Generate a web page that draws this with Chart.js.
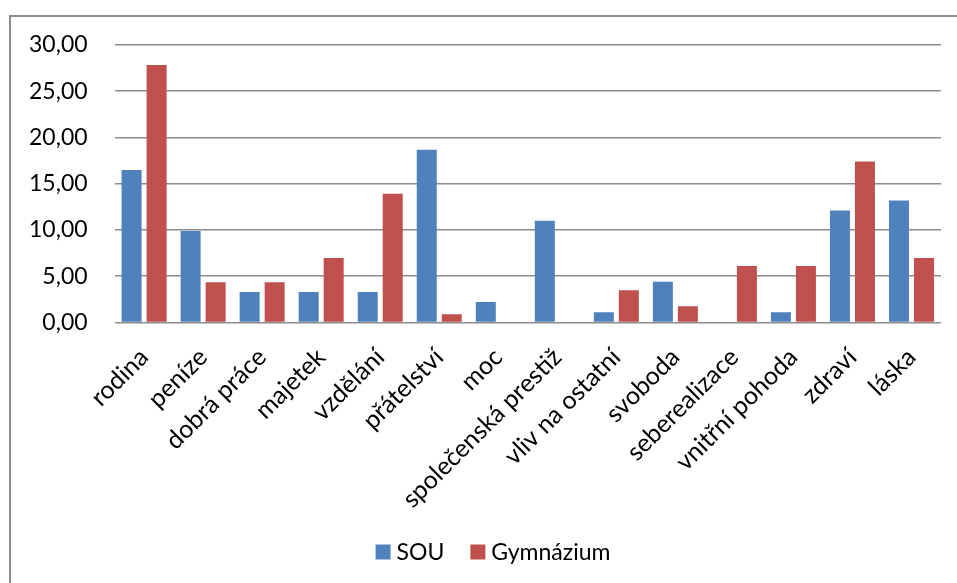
<!DOCTYPE html>
<html>
<head>
<meta charset="utf-8">
<script src="https://cdn.jsdelivr.net/npm/chart.js@4"></script>
<style>
  html, body { margin: 0; padding: 0; background: #ffffff; }
  #wrap { width: 957px; height: 583px; position: relative; }
</style>
</head>
<body>
<div id="wrap"><canvas id="c" width="957" height="583"></canvas></div>
<script>
// Hodnoty v procentech podle typu školy
const categories = ['rodina', 'peníze', 'dobrá práce', 'majetek', 'vzdělání', 'přátelství', 'moc',
  'společenská prestiž', 'vliv na ostatní', 'svoboda', 'seberealizace', 'vnitřní pohoda', 'zdraví', 'láska'];
const souValues = [16.48, 9.89, 3.30, 3.30, 3.30, 18.68, 2.20, 10.99, 1.10, 4.40, 0, 1.10, 12.09, 13.19];
const gymValues = [27.83, 4.35, 4.35, 6.96, 13.91, 0.87, 0, 0, 3.48, 1.74, 6.09, 6.09, 17.39, 6.96];
const yTicks = [0, 5, 10, 15, 20, 25, 30];

const FONT = 'Lato, "Open Sans", sans-serif';
const FONT_SIZE = 23;
const X_FONT_SIZE = 25;

// Frame around the chart area
const framePlugin = {
  id: 'frame',
  afterDraw(chart) {
    const ctx = chart.ctx;
    ctx.save();
    ctx.strokeStyle = '#8c8c8c';
    ctx.lineWidth = 2;
    ctx.strokeRect(10, 16, 1000, 700);
    ctx.restore();
  }
};

// Legend row under the axis labels: colour square followed by series name
const bottomLegend = {
  id: 'bottomLegend',
  afterDraw(chart) {
    const ctx = chart.ctx;
    const cy = 552, box = 15, textGap = 6, itemGap = 26;
    ctx.save();
    ctx.font = FONT_SIZE + 'px ' + FONT;
    ctx.textBaseline = 'middle';
    ctx.fillStyle = '#000';
    const items = chart.data.datasets.map(ds => ({
      label: ds.label, color: ds.backgroundColor,
      w: box + textGap + ctx.measureText(ds.label).width
    }));
    const total = items.reduce((s, it) => s + it.w, 0) + itemGap * (items.length - 1);
    let x = 493 - total / 2;
    items.forEach(it => {
      ctx.fillStyle = it.color;
      ctx.fillRect(x, cy - box / 2, box, box);
      ctx.fillStyle = '#000';
      ctx.fillText(it.label, x + box + textGap, cy + 1);
      x += it.w + itemGap;
    });
    ctx.restore();
  }
};

new Chart(document.getElementById('c'), {
  type: 'bar',
  data: {
    labels: categories,
    datasets: [
      { label: 'SOU', data: souValues, backgroundColor: '#4F81BD', borderWidth: 0 },
      { label: 'Gymnázium', data: gymValues, backgroundColor: '#C0504D', borderWidth: 0 }
    ]
  },
  options: {
    responsive: false,
    animation: false,
    devicePixelRatio: 1,
    categoryPercentage: 0.847,
    barPercentage: 0.8,
    layout: { padding: { top: 45, right: 16, left: 2, bottom: 49 } },
    plugins: {
      legend: { display: false },
      tooltip: { enabled: false }
    },
    scales: {
      x: {
        grid: { display: false, drawTicks: false },
        border: { display: false },
        ticks: {
          font: { family: FONT, size: X_FONT_SIZE },
          color: '#000',
          maxRotation: 45,
          minRotation: 45,
          padding: 20,
          autoSkip: false
        }
      },
      y: {
        min: 0,
        max: 30,
        afterBuildTicks(axis) { axis.ticks = yTicks.map(v => ({ value: v })); },
        grid: { color: '#8c8c8c', lineWidth: 1.5, drawTicks: false },
        border: { display: false },
        ticks: {
          font: { family: FONT, size: FONT_SIZE },
          color: '#000',
          padding: 27,
          callback: v => Number(v).toFixed(2).replace('.', ',')
        }
      }
    }
  },
  plugins: [framePlugin, bottomLegend]
});
</script>
</body>
</html>
